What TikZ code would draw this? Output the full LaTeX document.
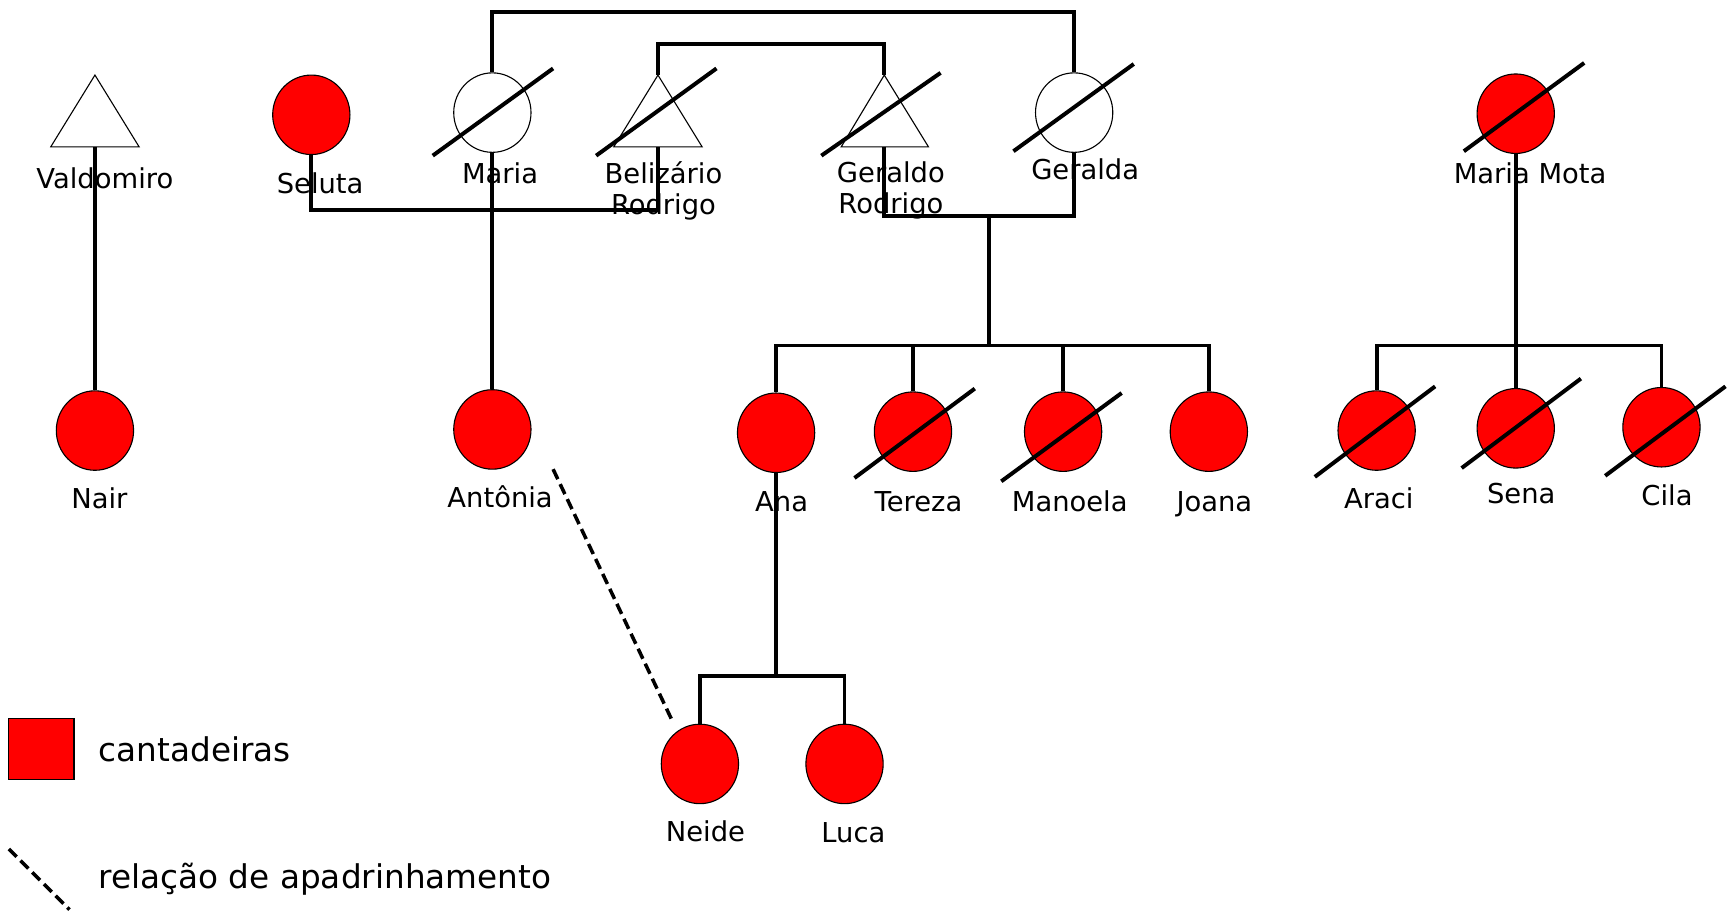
\documentclass[tikz,border=0pt]{standalone}
\usepackage{fontspec}
\setmainfont{DejaVu Sans}
\usetikzlibrary{shapes.geometric,calc}
\definecolor{cred}{RGB}{255,0,0}
\begin{document}
\begin{tikzpicture}[x=0.5pt,y=-0.5pt,
  fem/.style={ellipse,draw=black,line width=0.5pt,minimum width=35pt,minimum height=36pt,inner sep=0pt},
  red/.style={fem,fill=cred},
  wht/.style={fem,fill=white},
  tri/.style={draw=black,line width=0.5pt,fill=white},
  link/.style={draw=black,line width=1.7pt},
  strike/.style={draw=black,line width=1.8pt},
  godlink/.style={draw=black,line width=1.6pt,dash pattern=on 5pt off 2.5pt},
  lab/.style={anchor=base,font=\fontsize{12.4}{14}\selectfont,inner sep=0pt,align=center},
  leg/.style={anchor=west,font=\fontsize{14.8}{17}\selectfont,inner sep=0pt}]
\useasboundingbox (0,0) rectangle (1568,834);
% triangles (men)
\coordinate (valA) at (86,68); \coordinate (valB) at (86,133);
\coordinate (belA) at (596,68); \coordinate (belB) at (596,133);
\coordinate (gerA) at (801,68); \coordinate (gerB) at (801,133);
\draw[tri] (valA) -- (46,133) -- (126,133) -- cycle;
\draw[tri] (belA) -- (556,133) -- (636,133) -- cycle;
\draw[tri] (gerA) -- (762,133) -- (841,133) -- cycle;
% circles
\node[red] (seluta) at (282,104) {};
\node[wht] (maria) at (446,102) {};
\node[wht] (geralda) at (973,102) {};
\node[red] (mota) at (1373,103) {};
\node[red] (nair) at (86,390) {};
\node[red] (antonia) at (446,389) {};
\node[red] (ana) at (703,392) {};
\node[red] (tereza) at (827,391) {};
\node[red] (manoela) at (963,391) {};
\node[red] (joana) at (1095,391) {};
\node[red] (araci) at (1247,390) {};
\node[red] (sena) at (1373,388) {};
\node[red] (cila) at (1505,387) {};
\node[red] (neide) at (634,692) {};
\node[red] (luca) at (765,692) {};
% labels
\node[lab] (lval) at (95,171) {Valdomiro};
\node[lab] (lsel) at (290,175) {Seluta};
\node[lab] (lmar) at (453,166) {Maria};
\node[lab] (lbel) at (601,194) {Belizário\\[0pt]Rodrigo};
\node[lab] (lger) at (807,193) {Geraldo\\[0pt]Rodrigo};
\node[lab] (lgda) at (983,163) {Geralda};
\node[lab] (lmot) at (1386,166) {Maria Mota};
\node[lab] (lnai) at (90,461) {Nair};
\node[lab] (lant) at (453,460) {Antônia};
\node[lab] (lana) at (708,463) {Ana};
\node[lab] (lter) at (832,463) {Tereza};
\node[lab] (lman) at (969,463) {Manoela};
\node[lab] (ljoa) at (1100,463) {Joana};
\node[lab] (lara) at (1249,461) {Araci};
\node[lab] (lsen) at (1378,456) {Sena};
\node[lab] (lcil) at (1510,458) {Cila};
\node[lab] (lnei) at (639,762) {Neide};
\node[lab] (lluc) at (773,763) {Luca};
% strikes
\draw[strike] (392,141) -- (501,62);
\draw[strike] (540,141) -- (649,62);
\draw[strike] (744,141) -- (852,66);
\draw[strike] (918,137) -- (1027,58);
\draw[strike] (1326,137) -- (1435,57);
\draw[strike] (774,433) -- (883,352);
\draw[strike] (907,436) -- (1016,356);
\draw[strike] (1191,432) -- (1300,350);
\draw[strike] (1324,424) -- (1432,343);
\draw[strike] (1454,431) -- (1563,350);
% family links
\draw[link] (valB) -- (nair.north);
\draw[link] (seluta.south) |- (belB |- 0,190) -- (belB);
\draw[link] (maria.north) |- (0,11 -| geralda) -- (geralda.north);
\draw[link] (maria.south) -- (antonia.north);
\draw[link] (belA) |- (0,40 -| gerA) -- (gerA);
\draw[link] (gerB) |- (0,196 -| geralda) -- (geralda.south);
\coordinate (c1) at (896,196);
\coordinate (c1b) at (896,313);
\draw[link] (c1) -- (c1b);
\draw[link] (ana.north) |- (joana.north |- c1b) -- (joana.north);
\draw[link] (tereza.north) -- (tereza.north |- c1b);
\draw[link] (manoela.north) -- (manoela.north |- c1b);
\coordinate (c2) at (703,612);
\draw[link] (ana.south) -- (c2);
\draw[link] (neide.north) |- (luca.north |- c2) -- (luca.north);
\coordinate (c3) at (1373,313);
\draw[link] (mota.south) -- (c3);
\draw[link] (araci.north) |- (cila.north |- c3) -- (cila.north);
\draw[link] (sena.north) -- (c3);
% godparent relation
\coordinate (g1) at (501,425);
\coordinate (g2) at (609,653);
\draw[godlink] (g1) -- (g2);
% legend
\node[draw=black,line width=0.5pt,fill=cred,minimum width=29.5pt,minimum height=27.5pt,inner sep=0pt] (legsq) at (37.5,678.5) {};
\node[leg] (legt1) at (89,679) {cantadeiras};
\coordinate (ld1) at (8,769);
\coordinate (ld2) at (63,824);
\draw[godlink] (ld1) -- (ld2);
\node[leg] (legt2) at (89,796) {relação de apadrinhamento};
\end{tikzpicture}
\end{document}
